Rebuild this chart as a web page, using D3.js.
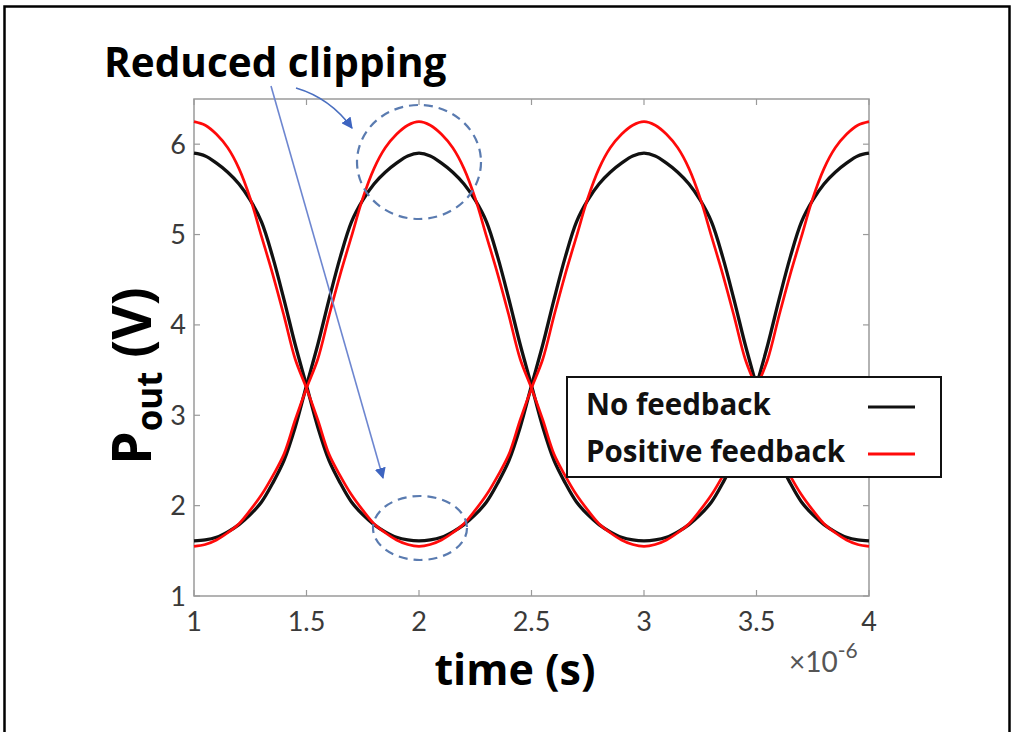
<!DOCTYPE html>
<html><head><meta charset="utf-8">
<script src="https://cdn.jsdelivr.net/npm/d3@7"></script>
<style>
html,body{margin:0;padding:0;background:#fff;}
svg{display:block;}
text{font-family:Lato,"Open Sans",sans-serif;}
.bold{font-family:"Open Sans",Lato,sans-serif;font-weight:bold;}
</style></head>
<body>
<svg id="chart" width="1014" height="732"></svg>
<script>
// ---- data (time in microseconds, Pout in volts) ----
const time = [1.00,1.05,1.10,1.15,1.20,1.25,1.30,1.35,1.40,1.45,1.50,1.55,1.60,1.65,1.70,1.75,1.80,1.85,1.90,1.95,
  2.00,2.05,2.10,2.15,2.20,2.25,2.30,2.35,2.40,2.45,2.50,2.55,2.60,2.65,2.70,2.75,2.80,2.85,2.90,2.95,
  3.00,3.05,3.10,3.15,3.20,3.25,3.30,3.35,3.40,3.45,3.50,3.55,3.60,3.65,3.70,3.75,3.80,3.85,3.90,3.95,4.00];
const noFeedbackA = [5.90,5.87,5.79,5.69,5.56,5.38,5.14,4.75,4.28,3.78,3.33,2.87,2.50,2.25,2.04,1.90,1.79,1.71,1.65,1.62,
  1.61,1.62,1.65,1.71,1.79,1.90,2.04,2.25,2.50,2.87,3.33,3.78,4.28,4.75,5.14,5.38,5.56,5.69,5.79,5.87,
  5.90,5.87,5.79,5.69,5.56,5.38,5.14,4.75,4.28,3.78,3.33,2.87,2.50,2.25,2.04,1.90,1.79,1.71,1.65,1.62,1.61];
const noFeedbackB = [1.61,1.62,1.65,1.71,1.79,1.90,2.04,2.25,2.50,2.87,3.33,3.78,4.28,4.75,5.14,5.38,5.56,5.69,5.79,5.87,
  5.90,5.87,5.79,5.69,5.56,5.38,5.14,4.75,4.28,3.78,3.33,2.87,2.50,2.25,2.04,1.90,1.79,1.71,1.65,1.62,
  1.61,1.62,1.65,1.71,1.79,1.90,2.04,2.25,2.50,2.87,3.33,3.78,4.28,4.75,5.14,5.38,5.56,5.69,5.79,5.87,5.90];
const posFeedbackA = [6.25,6.21,6.11,5.96,5.73,5.40,4.98,4.56,4.10,3.62,3.30,2.95,2.57,2.33,2.12,1.95,1.80,1.70,1.62,1.57,
  1.55,1.57,1.62,1.70,1.80,1.95,2.12,2.33,2.57,2.95,3.30,3.62,4.10,4.56,4.98,5.40,5.73,5.96,6.11,6.21,
  6.25,6.21,6.11,5.96,5.73,5.40,4.98,4.56,4.10,3.62,3.30,2.95,2.57,2.33,2.12,1.95,1.80,1.70,1.62,1.57,1.55];
const posFeedbackB = [1.55,1.57,1.62,1.70,1.80,1.95,2.12,2.33,2.57,2.95,3.30,3.62,4.10,4.56,4.98,5.40,5.73,5.96,6.11,6.21,
  6.25,6.21,6.11,5.96,5.73,5.40,4.98,4.56,4.10,3.62,3.30,2.95,2.57,2.33,2.12,1.95,1.80,1.70,1.62,1.57,
  1.55,1.57,1.62,1.70,1.80,1.95,2.12,2.33,2.57,2.95,3.30,3.62,4.10,4.56,4.98,5.40,5.73,5.96,6.11,6.21,6.25];
const xTicks = [1,1.5,2,2.5,3,3.5,4];
const xTickLabels = ["1","1.5","2","2.5","3","3.5","4"];
const yTicks = [1,2,3,4,5,6];
const yTickLabels = ["1","2","3","4","5","6"];
const legendLabels = ["No feedback","Positive feedback"];
const seriesColors = ["#111111","#ff0a0a"];

// ---- layout ----
const svg = d3.select("#chart");
const L = 194, R = 869, T = 99, B = 596;
const x = d3.scaleLinear().domain([1,4]).range([L,R]);
const y = d3.scaleLinear().domain([1,6.5]).range([B,T]);

// outer frame
svg.append("rect").attr("x",4.5).attr("y",6.5).attr("width",1005).attr("height",730)
  .attr("fill","none").attr("stroke","#000").attr("stroke-width",2.5);

// plot box
svg.append("rect").attr("x",L).attr("y",T).attr("width",R-L).attr("height",B-T)
  .attr("fill","#fff").attr("stroke","#9a9a9a").attr("stroke-width",1.5);

// ticks (inward, on all sides)
const tk = svg.append("g").attr("stroke","#9a9a9a").attr("stroke-width",1.2);
xTicks.forEach(v=>{
  tk.append("line").attr("x1",x(v)).attr("x2",x(v)).attr("y1",B).attr("y2",B-6);
  tk.append("line").attr("x1",x(v)).attr("x2",x(v)).attr("y1",T).attr("y2",T+6);
});
yTicks.forEach(v=>{
  tk.append("line").attr("x1",L).attr("x2",L+6).attr("y1",y(v)).attr("y2",y(v));
  tk.append("line").attr("x1",R).attr("x2",R-6).attr("y1",y(v)).attr("y2",y(v));
});

// tick labels
const tl = svg.append("g").attr("fill","#3a3a3a").attr("font-size",27);
xTicks.forEach((v,i)=>{
  tl.append("text").attr("x",x(v)).attr("y",631).attr("text-anchor","middle").text(xTickLabels[i]);
});
yTicks.forEach((v,i)=>{
  tl.append("text").attr("x",186).attr("y",y(v)+9.5).attr("text-anchor","end").text(yTickLabels[i]);
});

// exponent
const ex = svg.append("text").attr("x",789).attr("y",672).attr("fill","#555").attr("font-size",28);
ex.append("tspan").text("\u00d710");
ex.append("tspan").attr("dy",-14).attr("font-size",21).text("-6");

// lines
const line = d3.line().x((d,i)=>x(time[i])).y(d=>y(d)).curve(d3.curveCatmullRom.alpha(0.5));
const g = svg.append("g");
[[noFeedbackA,0],[noFeedbackB,0],[posFeedbackA,1],[posFeedbackB,1]].forEach(([s,c])=>{
  g.append("path").datum(s).attr("d",line).attr("fill","none")
    .attr("stroke",seriesColors[c]).attr("stroke-width",c===0?3.3:2.7).attr("stroke-linejoin","round");
});

// annotation ellipses
svg.append("ellipse").attr("cx",419).attr("cy",162).attr("rx",62).attr("ry",57)
  .attr("fill","none").attr("stroke","#5a7bb0").attr("stroke-width",2.2).attr("stroke-dasharray","9,6");
svg.append("ellipse").attr("cx",420).attr("cy",528).attr("rx",47).attr("ry",32)
  .attr("fill","none").attr("stroke","#5a7bb0").attr("stroke-width",2.2).attr("stroke-dasharray","9,6");

// arrows
const defs = svg.append("defs");
defs.append("marker").attr("id","ah").attr("viewBox","0 0 10 10").attr("refX",9).attr("refY",5)
  .attr("markerWidth",7).attr("markerHeight",7).attr("orient","auto")
  .append("path").attr("d","M0,0 L10,5 L0,10 z").attr("fill","#3d64c0");
svg.append("path").attr("d","M296,88 Q330,98 352,128").attr("fill","none")
  .attr("stroke","#4a6fc0").attr("stroke-width",1.6).attr("marker-end","url(#ah)");
svg.append("line").attr("x1",271).attr("y1",86).attr("x2",383).attr("y2",478)
  .attr("stroke","#6d86d0").attr("stroke-width",1.6).attr("marker-end","url(#ah)");

// title annotation
svg.append("text").attr("class","bold").attr("x",104).attr("y",77).attr("font-size",40.5)
  .attr("fill","#000").text("Reduced clipping");

// axis labels
svg.append("text").attr("class","bold").attr("x",515).attr("y",685).attr("text-anchor","middle").attr("font-size",43)
  .attr("fill","#000").text("time (s)");
const yl = svg.append("text").attr("class","bold").attr("transform","translate(151,376) rotate(-90)").attr("text-anchor","middle")
  .attr("font-size",53).attr("fill","#000");
yl.append("tspan").text("P");
yl.append("tspan").attr("font-size",35).attr("dy",11).text("out");
yl.append("tspan").attr("dy",-11).text(" (V)");

// legend
const lg = svg.append("g");
lg.append("rect").attr("x",567).attr("y",377).attr("width",374).attr("height",100)
  .attr("fill","#fff").attr("stroke","#111").attr("stroke-width",2);
legendLabels.forEach((t,i)=>{
  const yy = [415,462][i];
  lg.append("text").attr("class","bold").attr("x",586).attr("y",yy).attr("font-size",29.5)
    .attr("fill","#111").text(t);
  lg.append("line").attr("x1",868).attr("x2",915).attr("y1",yy-8).attr("y2",yy-8)
    .attr("stroke",seriesColors[i]).attr("stroke-width",3);
});
</script>
</body></html>
